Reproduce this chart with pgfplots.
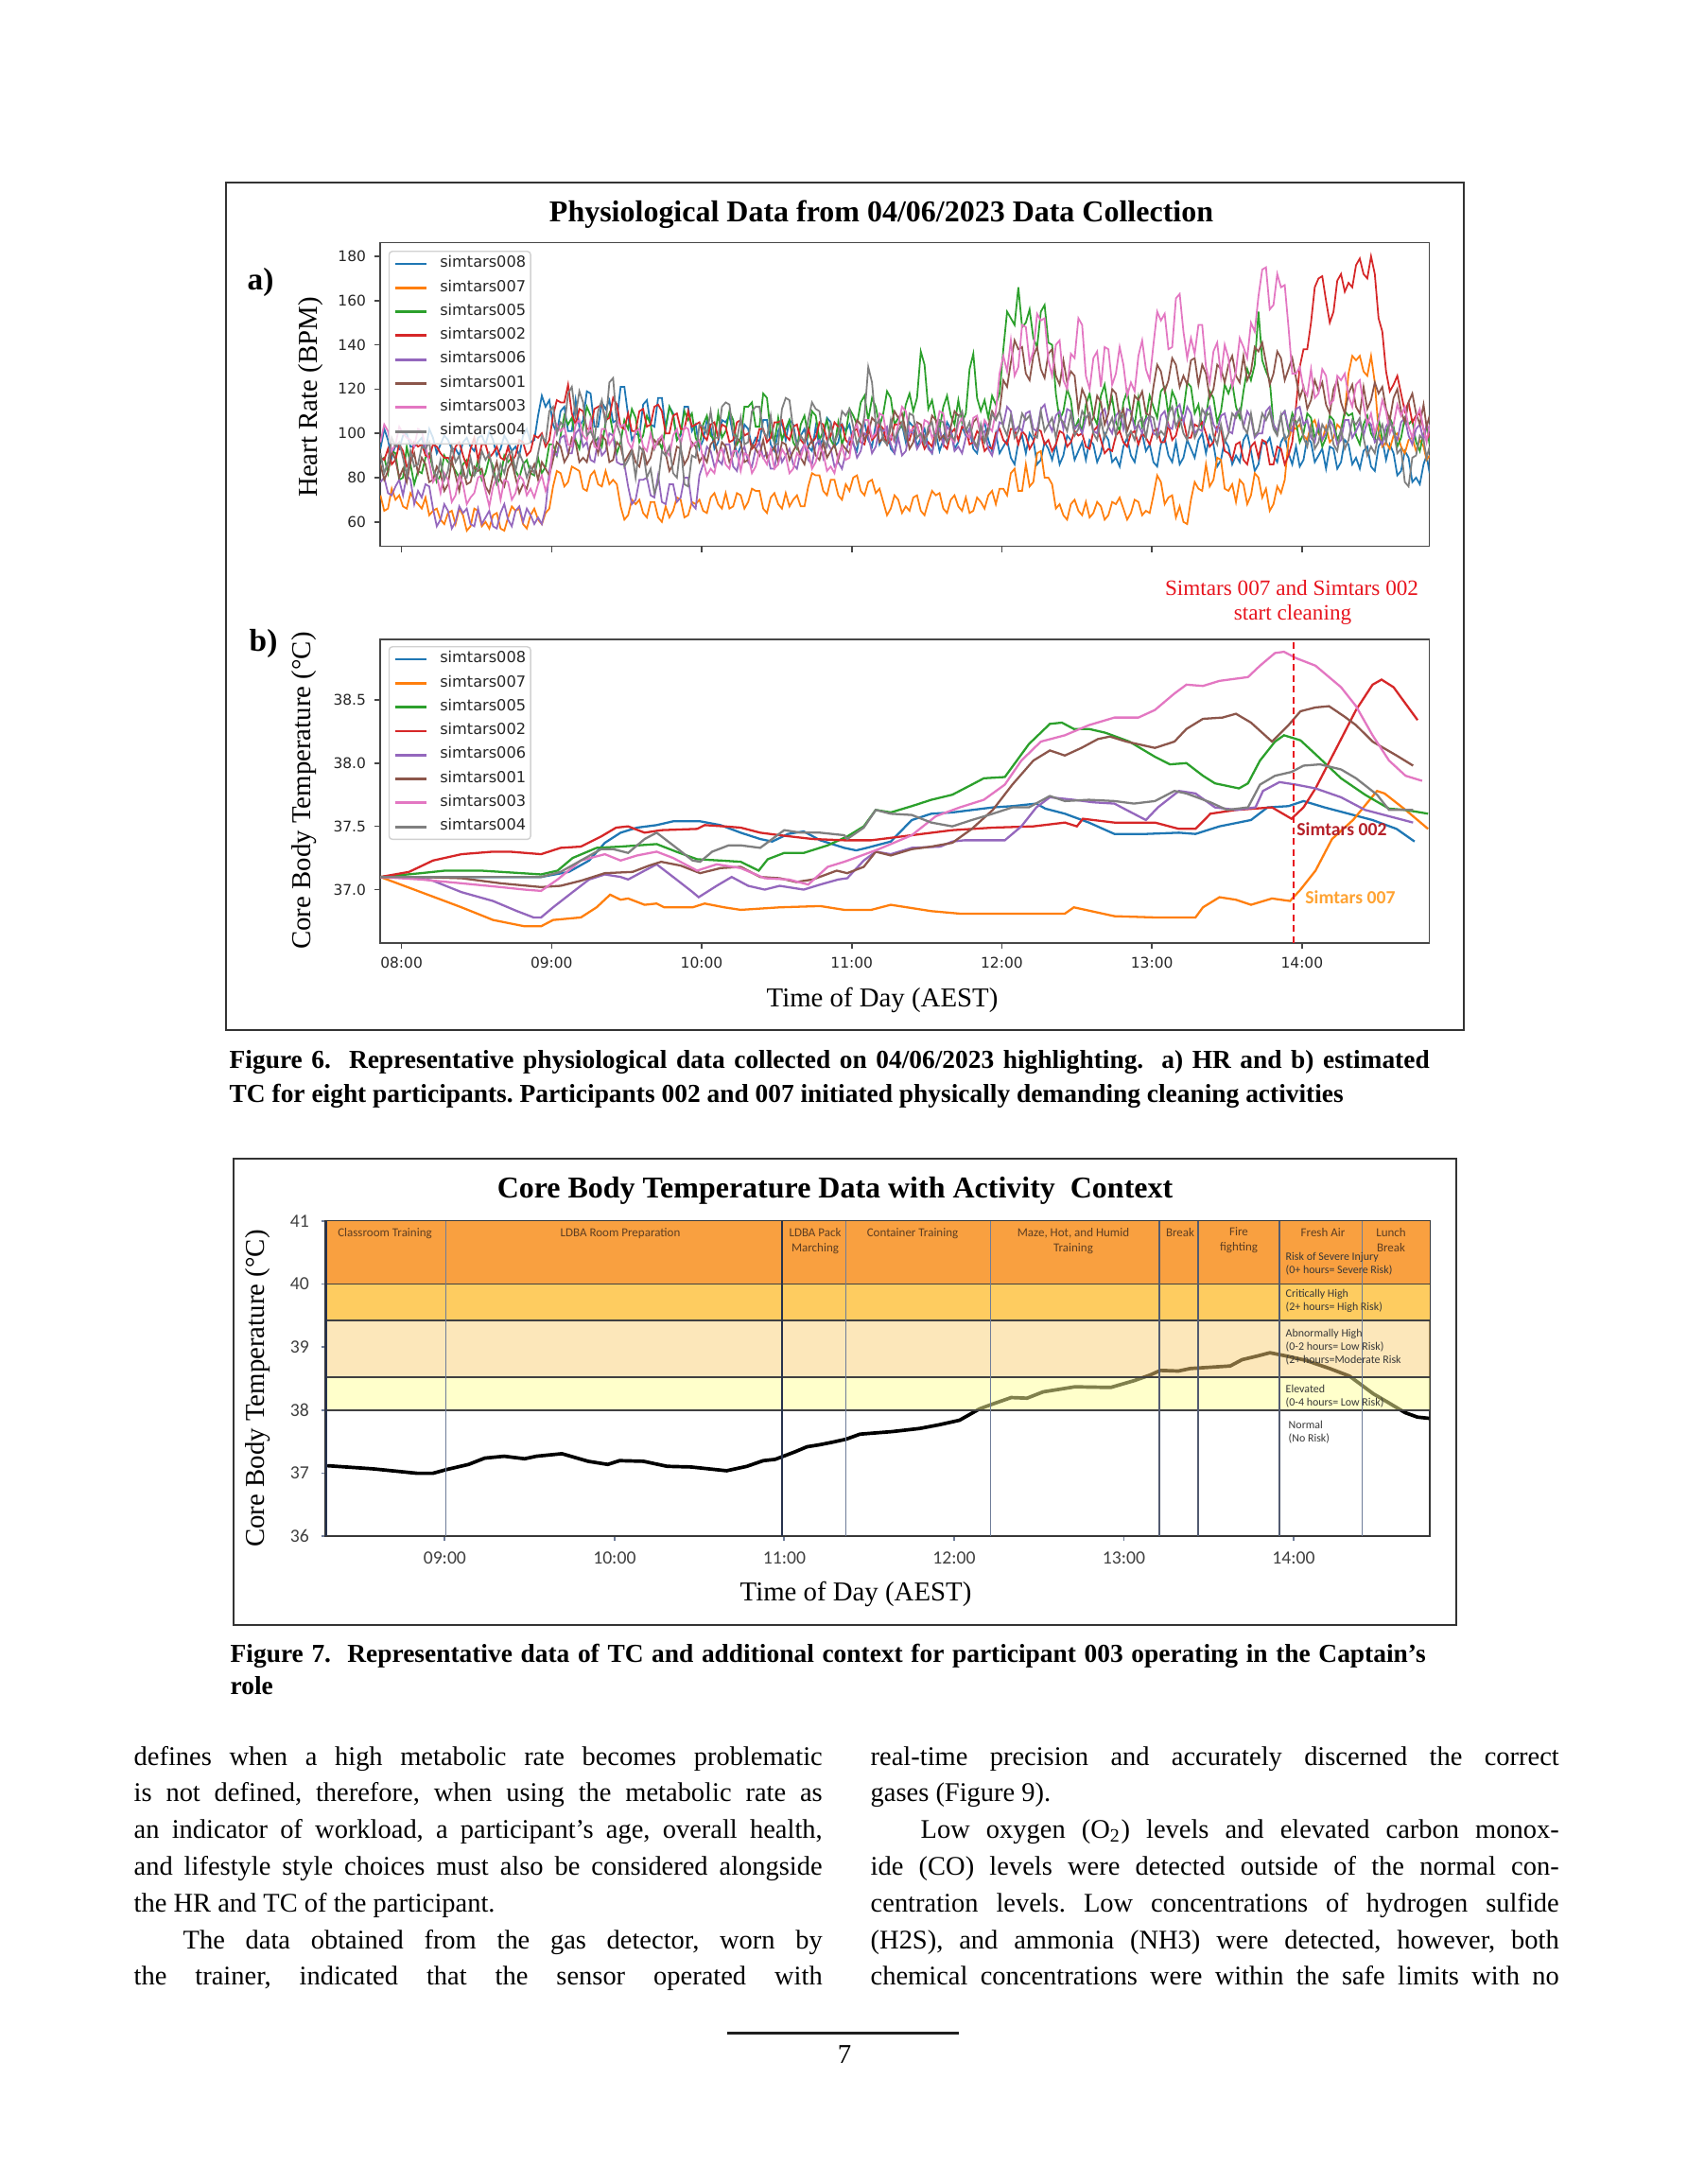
\documentclass[border=0pt]{standalone}
\usepackage{fontspec}
\setmainfont{Liberation Serif}
\newfontfamily\dejavu{DejaVu Sans}
\newfontfamily\carlito{Carlito}
\usepackage{pgfplots}
\usepackage{pgfplotstable}
\pgfplotsset{compat=1.18}
\frenchspacing

% matplotlib tab10
\definecolor{c0}{HTML}{1F77B4}
\definecolor{c1}{HTML}{FF7F0E}
\definecolor{c2}{HTML}{2CA02C}
\definecolor{c3}{HTML}{D62728}
\definecolor{c4}{HTML}{9467BD}
\definecolor{c5}{HTML}{8C564B}
\definecolor{c6}{HTML}{E377C2}
\definecolor{c7}{HTML}{7F7F7F}
% risk bands (C and D are drawn half transparent over the curve)
\definecolor{bandA}{HTML}{F9A040}
\definecolor{bandB}{HTML}{FECC60}
\definecolor{bandC}{HTML}{FBD177}
\definecolor{bandD}{HTML}{FFFF99}
\definecolor{slate}{HTML}{6F7D99}
\definecolor{navy}{HTML}{27324D}
\definecolor{actbrown}{HTML}{5E3E22}
\definecolor{annred}{HTML}{E8141E}
\definecolor{lab002}{HTML}{B5222A}
\definecolor{lab007}{HTML}{FFA333}

% heart rate, eight participants (BPM)
\pgfplotstableread{
t s008 s007 s005 s002 s006 s001 s003 s004
7.86 93 72 88 89 78 86 96 91
7.885 102 65 89 88 80 79 104 82
7.91 97 66 82 93 73 83 101 87
7.935 89 75 92 86 72 92 92 98
7.96 95 70 91 88 76 88 95 94
7.985 93 72 79 95 79 80 103 96
8.01 99 67 80 92 72 84 100 89
8.035 100 66 94 85 81 78 98 81
8.06 94 73 86 87 79 87 97 92
8.085 94 70 77 96 68 91 94 85
8.11 96 68 83 94 74 82 102 86
8.135 98 66 82 95 71 89 101 94
8.16 92 71 89 90 77 86 94 93
8.185 102 63 91 89 76 78 87 96
8.21 98 65 84 95 66 79 78 84
8.235 91 66 78 94 58 85 81 80
8.26 95 61 81 91 61 82 73 88
8.285 99 59 90 89 68 74 82 79
8.31 97 64 87 89 65 77 79 83
8.335 93 65 86 87 57 88 69 94
8.36 93 59 83 94 60 81 72 87
8.385 90 66 80 96 67 74 81 90
8.41 96 63 86 90 64 84 77 81
8.435 98 56 88 85 66 77 68 80
8.46 94 58 81 93 59 78 71 89
8.485 92 66 81 98 58 85 73 81
8.51 98 65 88 88 66 83 80 84
8.535 99 58 79 95 59 84 81 92
8.56 95 60 82 95 62 76 74 88
8.585 101 57 89 89 65 73 67 91
8.61 97 63 85 91 58 81 76 82
8.635 90 64 77 94 57 87 80 78
8.66 93 57 80 89 64 79 70 86
8.685 99 56 90 88 68 76 79 82
8.71 96 62 87 94 61 84 78 90
8.735 92 67 89 87 58 87 70 92
8.76 94 65 83 90 65 80 73 83
8.785 90 66 80 97 67 73 81 91
8.81 99 59 86 96 60 77 79 87
8.835 102 57 88 90 66 75 72 80
8.86 96 63 82 92 63 82 75 85
8.885 97 66 81 99 59 86 71 82
8.91 108 61 89 98 62 79 77 91
8.935 117 59 82 100 59 87 81 99
8.96 112 64 85 94 66 84 74 96
8.985 115 66 95 97 83 81 79 110
9.01 104 76 95 108 92 88 96 112
9.035 100 83 90 115 90 96 104 100
9.06 110 82 99 114 98 94 101 105
9.085 112 76 108 114 99 87 103 103
9.11 101 78 104 122 91 90 95 118
9.135 101 85 107 109 91 98 94 121
9.16 115 84 97 104 100 96 104 108
9.185 103 83 93 111 102 87 106 119
9.21 106 75 103 110 94 89 99 114
9.235 119 74 112 102 96 87 97 99
9.26 118 81 108 102 88 95 106 101
9.285 103 83 96 111 87 98 94 97
9.31 103 77 98 112 97 91 93 110
9.335 114 76 94 113 90 99 102 115
9.36 111 83 105 106 92 97 102 104
9.385 115 77 109 107 100 87 95 123
9.41 105 79 100 116 99 88 98 125
9.435 106 77 91 113 87 96 106 104
9.46 121 67 96 103 86 94 103 99
9.485 121 61 106 102 86 87 104 85
9.51 108 63 102 109 76 90 96 88
9.535 97 70 111 101 68 93 93 92
9.56 100 68 107 101 70 87 101 80
9.585 99 70 96 110 79 85 102 94
9.61 113 64 99 111 79 93 94 92
9.635 115 62 108 103 80 86 92 80
9.66 104 69 104 104 72 89 100 84
9.685 103 69 93 112 71 97 93 73
9.71 116 62 97 113 81 95 97 78
9.735 116 60 93 110 69 98 99 92
9.76 102 67 103 100 68 91 92 90
9.785 112 62 112 100 77 83 90 94
9.81 109 65 108 108 77 86 99 82
9.835 97 71 97 109 69 94 102 80
9.86 99 70 100 102 71 93 95 95
9.885 112 62 110 102 80 86 103 77
9.91 112 63 106 110 80 89 102 76
9.935 101 69 109 103 68 96 94 90
9.96 104 68 98 104 66 94 96 89
9.985 93 70 94 105 81 87 97 104
10.01 97 65 104 99 86 90 88 103
10.035 106 64 108 97 94 87 81 100
10.06 103 71 99 104 92 95 84 110
10.085 93 73 97 105 85 97 82 98
10.11 96 68 109 98 88 89 91 98
10.135 106 66 98 104 86 96 93 112
10.16 105 73 101 103 95 94 86 114
10.185 108 66 110 96 95 87 84 113
10.21 99 67 106 97 85 90 92 100
10.235 90 73 95 105 83 98 92 97
10.26 94 72 98 106 91 96 83 107
10.285 104 66 112 99 94 87 91 95
10.31 102 69 112 100 87 88 90 96
10.335 94 75 114 93 85 95 82 110
10.36 98 74 103 95 93 93 85 112
10.385 96 74 103 102 96 90 92 112
10.41 106 66 118 102 89 97 89 101
10.435 106 64 116 96 91 89 86 98
10.46 95 71 100 98 84 91 93 108
10.485 92 73 96 105 84 94 84 95
10.51 101 68 107 105 94 87 86 95
10.535 105 66 97 106 87 96 93 111
10.56 97 73 102 99 90 95 90 116
10.585 106 67 106 97 93 88 82 115
10.61 104 70 96 103 86 92 84 102
10.635 95 72 93 104 84 95 91 94
10.66 99 67 104 97 92 89 89 99
10.685 102 67 108 95 95 86 95 96
10.71 94 76 99 102 88 94 92 106
10.735 92 82 110 96 86 97 84 114
10.76 103 81 108 98 95 90 87 111
10.785 94 81 97 105 97 88 94 110
10.81 98 74 101 104 89 96 91 97
10.835 107 72 106 97 96 89 83 94
10.86 105 79 97 99 93 92 85 104
10.885 94 79 94 105 85 95 82 96
10.91 96 72 105 103 87 88 90 100
10.935 104 70 95 104 84 95 94 110
10.96 101 77 100 97 91 93 88 108
10.985 104 74 111 95 98 91 89 111
11.01 95 80 108 101 96 99 101 103
11.035 92 81 104 102 89 106 104 95
11.06 102 74 114 96 92 104 97 99
11.085 105 72 117 95 100 97 106 108
11.11 97 78 106 103 99 100 106 130
11.135 94 79 116 97 91 107 98 123
11.16 104 73 112 99 94 105 100 104
11.185 95 75 103 104 102 96 109 106
11.21 99 69 109 102 101 98 108 97
11.235 102 63 119 95 103 95 98 95
11.26 93 66 116 97 95 103 99 106
11.285 91 72 104 104 91 110 96 97
11.31 101 70 107 104 98 107 104 101
11.335 104 64 103 105 90 109 112 105
11.36 96 67 113 99 92 101 110 98
11.385 105 65 118 97 101 93 101 109
11.41 103 71 110 103 100 96 102 108
11.435 94 72 116 104 93 105 104 98
11.46 98 65 137 98 96 104 97 100
11.485 102 63 131 93 99 97 106 95
11.51 94 69 111 96 93 100 105 103
11.535 91 74 115 94 91 108 98 105
11.56 100 72 106 101 99 106 101 96
11.585 92 73 102 102 102 97 110 106
11.61 97 66 112 95 95 99 109 105
11.635 105 64 117 93 103 96 98 96
11.66 102 70 108 100 101 103 98 99
11.685 93 72 104 102 92 110 96 97
11.71 96 67 115 97 94 108 104 107
11.735 103 65 105 103 91 109 107 110
11.76 99 71 109 102 98 101 100 101
11.785 102 64 129 95 102 98 98 105
11.81 93 65 136 96 96 105 107 97
11.835 91 71 116 101 93 107 108 94
11.86 101 69 110 99 100 99 99 104
11.885 105 66 115 92 101 96 106 96
11.91 97 72 107 94 93 103 103 100
11.935 92 74 117 93 90 110 101 109
11.96 100 68 113 100 97 107 110 106
11.985 91 75 118 102 105 110 127 110
12.01 94 75 138 97 104 124 135 103
12.035 97 72 155 95 112 121 128 99
12.06 89 82 152 102 110 132 142 108
12.085 86 84 149 102 101 142 126 98
12.11 96 74 166 95 103 138 130 101
12.135 99 74 148 101 101 139 149 109
12.16 91 86 150 99 109 127 148 106
12.185 100 76 156 93 110 124 132 108
12.21 97 78 143 96 102 135 137 99
12.235 86 91 139 102 101 139 154 98
12.26 88 92 155 101 111 129 151 110
12.285 96 80 158 95 113 125 152 101
12.31 93 80 141 97 105 136 133 104
12.335 88 77 140 92 101 138 126 107
12.36 95 66 118 95 108 126 140 98
12.385 86 68 106 101 110 122 142 107
12.41 90 63 110 100 102 133 124 105
12.435 99 61 120 94 111 123 120 101
12.46 97 68 115 96 110 128 136 109
12.485 88 70 102 101 102 126 134 99
12.51 92 65 106 99 104 110 152 102
12.535 96 63 101 100 100 120 149 110
12.56 88 69 113 94 107 116 126 107
12.585 97 62 118 93 109 104 120 109
12.61 95 64 108 101 101 107 134 100
12.635 87 69 104 103 100 117 137 97
12.66 91 67 117 97 109 114 121 106
12.685 100 61 122 91 111 104 139 98
12.71 97 63 111 93 103 109 138 103
12.735 87 69 116 92 100 120 122 107
12.76 89 68 105 99 108 118 127 99
12.785 85 71 101 101 110 107 139 109
12.81 94 66 114 96 102 111 131 108
12.835 98 61 119 94 111 101 117 98
12.86 90 64 109 100 110 106 123 101
12.885 87 70 104 101 102 117 119 97
12.91 96 69 116 95 104 115 135 105
12.935 100 63 103 100 100 119 142 107
12.96 92 65 107 98 106 109 129 98
12.985 95 64 117 95 108 108 124 108
13.01 87 72 112 101 100 121 140 107
13.035 85 81 107 102 99 131 155 98
13.06 95 78 119 96 108 128 151 101
13.085 98 68 121 96 110 119 154 99
13.11 90 71 108 104 103 124 138 109
13.135 87 72 119 97 102 134 139 112
13.16 96 62 115 99 111 131 161 103
13.185 86 67 104 106 113 121 163 107
13.21 89 60 110 106 105 126 146 100
13.235 97 59 123 98 112 122 134 97
13.26 93 70 121 98 109 133 143 106
13.285 89 78 109 104 100 134 136 98
13.31 97 75 113 103 102 122 149 102
13.335 100 74 102 105 101 131 149 111
13.36 91 86 107 100 110 127 130 108
13.385 99 76 119 94 112 116 123 109
13.41 95 79 116 96 104 120 137 99
13.435 85 89 105 103 101 131 141 95
13.46 88 88 110 102 108 129 126 104
13.485 97 75 122 92 109 123 140 96
13.51 94 74 118 91 101 131 134 100
13.535 86 77 123 88 100 135 121 109
13.56 90 69 112 95 109 126 128 107
13.585 87 79 107 96 111 123 143 111
13.61 97 77 119 88 103 135 139 103
13.635 100 68 129 86 110 124 134 100
13.66 92 72 124 94 107 128 150 109
13.685 83 82 131 96 98 139 146 99
13.71 86 80 155 89 100 137 162 101
13.735 96 71 133 97 100 141 174 109
13.76 95 75 128 96 110 132 175 106
13.785 98 65 124 86 112 122 156 110
13.81 90 68 104 86 104 127 158 102
13.835 87 76 100 94 101 137 172 99
13.86 96 73 108 93 108 134 166 108
13.885 99 79 110 86 110 124 167 97
13.91 91 97 101 90 102 129 148 99
13.935 86 103 109 96 101 134 127 107
13.96 94 102 105 112 111 125 127 104
13.985 85 104 96 130 112 116 130 107
14.01 88 99 100 138 104 121 120 98
14.035 98 97 109 138 106 111 117 94
14.06 96 104 107 150 98 115 129 103
14.085 87 106 98 166 96 124 116 93
14.11 90 100 102 170 105 119 118 96
14.135 93 97 94 171 97 123 129 104
14.16 84 103 98 160 100 113 126 101
14.185 94 96 108 150 106 109 113 104
14.21 93 98 106 155 103 120 115 95
14.235 84 104 97 169 95 124 126 92
14.26 87 102 101 172 97 114 124 102
14.285 97 109 110 164 106 109 127 93
14.31 95 127 108 168 106 118 117 97
14.335 86 135 109 166 98 122 112 106
14.36 89 133 99 176 101 112 122 104
14.385 84 135 95 179 105 109 124 107
14.41 92 128 104 172 99 121 113 98
14.435 94 126 108 170 106 111 104 90
14.46 85 135 100 180 104 115 109 94
14.485 83 123 97 172 96 123 100 91
14.51 94 101 107 152 98 118 106 100
14.535 97 94 97 146 95 121 115 104
14.56 88 96 99 128 103 111 110 96
14.585 95 93 107 119 106 106 100 105
14.61 91 99 103 122 100 116 104 102
14.635 81 100 94 126 97 120 113 91
14.66 83 94 98 118 105 110 108 93
14.685 92 91 107 110 107 105 112 78
14.71 89 97 104 114 99 114 103 76
14.735 78 98 106 105 95 118 98 89
14.76 80 92 96 108 102 109 107 90
14.785 77 97 92 109 104 104 111 99
14.81 86 94 100 102 97 113 102 97
14.83 90 88 103 97 104 103 96 89
14.85 82 90 95 100 101 108 104 94
}\hrdata

\pgfplotsset{
  mpl/.style={
    scale only axis, width=110.94mm, height=32.1mm,
    xmin=7.859, xmax=14.849, xtick={8,9,...,14},
    axis line style={draw=black!72, line width=0.45pt},
    tick align=outside, xtick pos=left, ytick pos=left,
    major tick length=0.6mm, tick style={draw=black!72, line width=0.45pt},
    tick label style={font=\dejavu\fontsize{4.4}{5}\selectfont, text=black!85},
    yticklabel style={inner sep=0pt, xshift=-0.85mm},
    xticklabel style={inner sep=0pt, yshift=-0.85mm},
    /pgf/number format/assume math mode=true,
    legend cell align=left,
    legend style={anchor=north west, draw=black!18, rounded corners=0.35mm,
      fill=white, fill opacity=0.8, text opacity=1, draw opacity=1,
      font=\dejavu\fontsize{4.6}{5}\selectfont, text=black!85,
      inner xsep=0.5mm, inner ysep=0.6mm, row sep=1.08mm,
      nodes={inner sep=0pt, text height=1.1mm, text depth=0.35mm},
      /tikz/every odd column/.append style={column sep=1.3mm}},
    legend image code/.code={\draw[##1, line width=0.8pt] (0mm,0mm) -- (3.3mm,0mm);},
  },
  hr/.style={line width=0.5pt},
  tc/.style={line width=0.65pt},
}

\begin{document}
\begin{tikzpicture}
\fill[white] (0,0) rectangle (178.4mm,-230.9mm);
\path[use as bounding box] (0,0) rectangle (178.4mm,-230.9mm);

% ---------- Figure 6 a) heart rate
\begin{axis}[mpl, at={(40.22mm,-57.77mm)}, anchor=south west,
  ymin=48.9, ymax=186.1, ytick={60,80,...,180}, xticklabels={},
  legend style={at={(0.0077,0.974)}}]
\addplot[c0, hr] table[x=t, y=s008] {\hrdata}; \addlegendentry{simtars008}
\addplot[c1, hr] table[x=t, y=s007] {\hrdata}; \addlegendentry{simtars007}
\addplot[c2, hr] table[x=t, y=s005] {\hrdata}; \addlegendentry{simtars005}
\addplot[c3, hr] table[x=t, y=s002] {\hrdata}; \addlegendentry{simtars002}
\addplot[c4, hr] table[x=t, y=s006] {\hrdata}; \addlegendentry{simtars006}
\addplot[c5, hr] table[x=t, y=s001] {\hrdata}; \addlegendentry{simtars001}
\addplot[c6, hr] table[x=t, y=s003] {\hrdata}; \addlegendentry{simtars003}
\addplot[c7, hr] table[x=t, y=s004] {\hrdata}; \addlegendentry{simtars004}
\end{axis}

% ---------- Figure 6 b) core body temperature
\begin{axis}[mpl, at={(40.22mm,-99.67mm)}, anchor=south west,
  ymin=36.58, ymax=38.98, ytick={37,37.5,38,38.5},
  yticklabels={37.0,37.5,38.0,38.5},
  xticklabels={08:00,09:00,10:00,11:00,12:00,13:00,14:00},
  legend style={at={(0.0077,0.977)}}]
\addplot[c0, tc] coordinates {(7.859,37.10) (8.93,37.10) (9.115,37.14) (9.25,37.23) (9.355,37.37) (9.46,37.45) (9.57,37.49) (9.70,37.51) (9.81,37.54) (9.99,37.54) (10.125,37.51) (10.26,37.45) (10.39,37.40) (10.47,37.38) (10.576,37.44) (10.68,37.46) (10.79,37.39) (10.87,37.36) (10.95,37.33) (11.03,37.31) (11.10,37.33) (11.26,37.38) (11.40,37.55) (11.53,37.60) (11.67,37.61) (11.94,37.65) (12.07,37.66) (12.23,37.68) (12.29,37.64) (12.42,37.60) (12.58,37.53) (12.75,37.44) (12.96,37.44) (13.18,37.45) (13.29,37.44) (13.45,37.50) (13.66,37.55) (13.77,37.65) (13.91,37.66) (14.01,37.70) (14.15,37.65) (14.31,37.60) (14.47,37.55) (14.63,37.48) (14.75,37.38)};
\addlegendentry{simtars008}
\addplot[c1, tc] coordinates {(7.859,37.10) (8.13,36.98) (8.40,36.86) (8.61,36.76) (8.82,36.71) (8.93,36.71) (9.01,36.76) (9.195,36.78) (9.30,36.86) (9.39,36.96) (9.46,36.92) (9.51,36.93) (9.62,36.88) (9.70,36.89) (9.75,36.86) (9.94,36.86) (10.02,36.89) (10.15,36.86) (10.26,36.84) (10.52,36.86) (10.79,36.87) (10.95,36.84) (11.13,36.84) (11.26,36.88) (11.53,36.83) (11.72,36.81) (12.21,36.81) (12.42,36.81) (12.48,36.86) (12.75,36.79) (13.02,36.78) (13.29,36.78) (13.34,36.86) (13.45,36.94) (13.56,36.92) (13.66,36.88) (13.80,36.93) (13.92,36.91) (13.99,37.00) (14.09,37.15) (14.20,37.40) (14.34,37.55) (14.50,37.78) (14.55,37.76) (14.69,37.63) (14.84,37.48)};
\addlegendentry{simtars007}
\addplot[c2, tc] coordinates {(7.859,37.10) (8.13,37.13) (8.29,37.15) (8.53,37.15) (8.80,37.13) (8.93,37.12) (9.04,37.15) (9.14,37.25) (9.30,37.33) (9.46,37.34) (9.70,37.36) (9.83,37.30) (9.97,37.24) (10.125,37.23) (10.26,37.22) (10.38,37.15) (10.44,37.24) (10.55,37.29) (10.68,37.29) (10.84,37.35) (10.97,37.42) (11.08,37.50) (11.16,37.63) (11.26,37.61) (11.40,37.66) (11.53,37.71) (11.67,37.75) (11.80,37.83) (11.88,37.88) (12.02,37.89) (12.10,38.02) (12.18,38.15) (12.32,38.31) (12.40,38.32) (12.48,38.27) (12.58,38.27) (12.69,38.24) (12.85,38.17) (13.02,38.05) (13.12,37.99) (13.23,38.00) (13.34,37.90) (13.42,37.84) (13.58,37.80) (13.64,37.84) (13.72,38.02) (13.82,38.17) (13.88,38.22) (13.99,38.18) (14.09,38.07) (14.26,37.88) (14.42,37.75) (14.58,37.64) (14.69,37.63) (14.84,37.60)};
\addlegendentry{simtars005}
\addplot[c3, tc] coordinates {(7.859,37.10) (8.05,37.14) (8.21,37.23) (8.40,37.28) (8.61,37.30) (8.72,37.30) (8.93,37.28) (9.06,37.33) (9.195,37.34) (9.33,37.42) (9.43,37.49) (9.51,37.50) (9.62,37.45) (9.73,37.47) (9.97,37.48) (10.02,37.51) (10.15,37.50) (10.26,37.49) (10.39,37.45) (10.52,37.43) (10.74,37.40) (10.95,37.39) (11.13,37.39) (11.40,37.43) (11.67,37.47) (11.94,37.49) (12.21,37.50) (12.42,37.53) (12.50,37.50) (12.54,37.56) (12.75,37.53) (13.02,37.53) (13.18,37.48) (13.29,37.48) (13.39,37.60) (13.56,37.63) (13.80,37.65) (13.93,37.56) (14.01,37.65) (14.09,37.80) (14.23,38.12) (14.36,38.42) (14.47,38.62) (14.53,38.66) (14.61,38.60) (14.69,38.47) (14.77,38.34)};
\addlegendentry{simtars002}
\addplot[c4, tc] coordinates {(7.859,37.10) (8.08,37.10) (8.21,37.07) (8.40,36.98) (8.61,36.91) (8.77,36.83) (8.88,36.78) (8.93,36.78) (9.01,36.86) (9.14,36.98) (9.25,37.08) (9.355,37.12) (9.46,37.10) (9.51,37.08) (9.62,37.15) (9.70,37.20) (9.81,37.10) (9.94,36.98) (9.98,36.94) (10.10,37.03) (10.20,37.10) (10.31,37.03) (10.42,37.00) (10.52,37.03) (10.68,37.00) (10.79,37.04) (10.91,37.08) (10.97,37.09) (11.08,37.23) (11.16,37.30) (11.26,37.28) (11.40,37.33) (11.59,37.34) (11.67,37.38) (11.75,37.39) (12.02,37.39) (12.13,37.50) (12.23,37.65) (12.32,37.73) (12.48,37.71) (12.61,37.69) (12.75,37.68) (12.83,37.63) (12.96,37.55) (13.04,37.65) (13.18,37.78) (13.29,37.76) (13.42,37.65) (13.56,37.63) (13.69,37.65) (13.74,37.78) (13.85,37.85) (13.96,37.83) (14.09,37.80) (14.26,37.73) (14.42,37.63) (14.58,37.58) (14.74,37.53)};
\addlegendentry{simtars006}
\addplot[c5, tc] coordinates {(7.859,37.10) (8.13,37.10) (8.40,37.09) (8.66,37.05) (8.93,37.02) (9.06,37.03) (9.195,37.07) (9.355,37.13) (9.54,37.14) (9.65,37.19) (9.73,37.22) (9.86,37.19) (9.99,37.13) (10.125,37.17) (10.26,37.18) (10.39,37.10) (10.52,37.09) (10.63,37.06) (10.74,37.08) (10.90,37.15) (10.97,37.13) (11.08,37.18) (11.16,37.30) (11.26,37.27) (11.40,37.32) (11.53,37.34) (11.67,37.37) (11.80,37.48) (11.94,37.63) (12.07,37.83) (12.21,38.02) (12.32,38.10) (12.42,38.06) (12.53,38.12) (12.64,38.19) (12.72,38.21) (12.83,38.17) (13.02,38.12) (13.15,38.17) (13.23,38.27) (13.34,38.35) (13.47,38.36) (13.56,38.39) (13.66,38.32) (13.80,38.17) (13.91,38.30) (13.99,38.41) (14.09,38.44) (14.18,38.45) (14.28,38.37) (14.36,38.30) (14.47,38.17) (14.63,38.06) (14.74,37.98)};
\addlegendentry{simtars001}
\addplot[c6, tc] coordinates {(7.859,37.10) (8.13,37.08) (8.40,37.05) (8.66,37.02) (8.82,37.00) (8.93,36.99) (9.04,37.08) (9.195,37.23) (9.355,37.28) (9.46,37.23) (9.57,37.27) (9.70,37.30) (9.81,37.25) (9.97,37.15) (10.10,37.20) (10.26,37.17) (10.42,37.09) (10.58,37.08) (10.71,37.04) (10.84,37.18) (10.95,37.22) (11.02,37.25) (11.18,37.32) (11.40,37.43) (11.56,37.58) (11.72,37.65) (11.88,37.71) (12.02,37.83) (12.13,38.02) (12.26,38.17) (12.42,38.22) (12.58,38.30) (12.75,38.36) (12.91,38.36) (13.02,38.42) (13.15,38.55) (13.23,38.62) (13.34,38.61) (13.45,38.65) (13.64,38.68) (13.72,38.77) (13.82,38.87) (13.88,38.88) (13.96,38.83) (14.09,38.77) (14.26,38.60) (14.36,38.45) (14.47,38.22) (14.58,38.02) (14.69,37.90) (14.80,37.86)};
\addlegendentry{simtars003}
\addplot[c7, tc] coordinates {(7.859,37.10) (8.93,37.10) (9.06,37.14) (9.195,37.23) (9.33,37.32) (9.41,37.32) (9.51,37.29) (9.62,37.40) (9.70,37.45) (9.81,37.35) (9.94,37.23) (9.99,37.22) (10.07,37.30) (10.18,37.35) (10.26,37.35) (10.39,37.33) (10.55,37.47) (10.66,37.45) (10.79,37.45) (10.95,37.43) (10.97,37.40) (11.08,37.49) (11.16,37.63) (11.26,37.60) (11.40,37.59) (11.53,37.53) (11.67,37.50) (11.80,37.55) (11.94,37.60) (12.07,37.65) (12.18,37.65) (12.32,37.74) (12.42,37.70) (12.58,37.71) (12.75,37.70) (12.88,37.68) (13.02,37.70) (13.15,37.78) (13.23,37.76) (13.39,37.69) (13.50,37.63) (13.64,37.65) (13.72,37.83) (13.82,37.90) (13.93,37.93) (14.01,37.98) (14.12,37.99) (14.26,37.95) (14.36,37.88) (14.50,37.75) (14.58,37.63) (14.74,37.63)};
\addlegendentry{simtars004}
\draw[annred, line width=0.6pt, dash pattern=on 0.7mm off 0.45mm] (axis cs:13.945,36.58) -- (axis cs:13.945,38.98);
\end{axis}

% ---------- Figure 7 core body temperature with activity context
\begin{axis}[scale only axis, width=116.8mm, height=33.36mm,
  at={(34.4mm,-162.43mm)}, anchor=south west,
  xmin=8.296, xmax=14.803, ymin=36, ymax=41,
  xtick={9,...,14}, xticklabels={09:00,10:00,11:00,12:00,13:00,14:00},
  ytick={36,...,41},
  tick align=outside, xtick pos=left, ytick pos=left, major tick length=0.45mm,
  axis line style={draw=black!78, line width=0.6pt},
  tick style={draw=slate, line width=0.5pt},
  tick label style={font=\carlito\fontsize{5.6}{6}\selectfont, text=black!75},
  yticklabel style={inner sep=0pt, xshift=-1.2mm},
  xticklabel style={inner sep=0pt, yshift=-1.1mm},
  /pgf/number format/assume math mode=true]
\addplot[black, line width=1.05pt] coordinates {(8.308,37.12) (8.578,37.07) (8.836,37.00) (8.93,37.00) (9.012,37.06) (9.14,37.14) (9.235,37.24) (9.35,37.27) (9.47,37.23) (9.54,37.27) (9.69,37.31) (9.844,37.19) (9.96,37.14) (10.03,37.20) (10.17,37.19) (10.31,37.11) (10.45,37.10) (10.66,37.04) (10.78,37.11) (10.876,37.20) (10.946,37.22) (11.063,37.34) (11.134,37.42) (11.204,37.45) (11.28,37.49) (11.364,37.54) (11.446,37.62) (11.634,37.66) (11.798,37.71) (11.915,37.77) (12.032,37.84) (12.15,38.02) (12.22,38.09) (12.337,38.20) (12.43,38.19) (12.525,38.29) (12.712,38.37) (12.923,38.36) (13.064,38.47) (13.158,38.56) (13.216,38.63) (13.322,38.62) (13.392,38.66) (13.51,38.68) (13.627,38.70) (13.697,38.80) (13.79,38.86) (13.861,38.91) (13.955,38.86) (14.072,38.79) (14.213,38.66) (14.33,38.54) (14.47,38.26) (14.565,38.11) (14.658,37.96) (14.73,37.89) (14.80,37.87)};
\fill[bandD, opacity=0.5] (axis cs:8.296,38) rectangle (axis cs:14.803,38.52);
\fill[bandC, opacity=0.5] (axis cs:8.296,38.52) rectangle (axis cs:14.803,39.42);
\fill[bandB] (axis cs:8.296,39.42) rectangle (axis cs:14.803,40);
\fill[bandA] (axis cs:8.296,40) rectangle (axis cs:14.803,41);
\draw[black!75, line width=0.5pt] (axis cs:8.296,38) -- (axis cs:14.803,38);
\draw[black!75, line width=0.5pt] (axis cs:8.296,38.52) -- (axis cs:14.803,38.52);
\draw[black!75, line width=0.5pt] (axis cs:8.296,39.42) -- (axis cs:14.803,39.42);
\draw[black!75, line width=0.5pt] (axis cs:8.296,40) -- (axis cs:14.803,40);
\draw[slate, line width=0.4pt] (axis cs:9.007,36) -- (axis cs:9.007,41);
\draw[navy, line width=0.7pt] (axis cs:10.988,36) -- (axis cs:10.988,41);
\draw[slate, line width=0.4pt] (axis cs:11.363,36) -- (axis cs:11.363,41);
\draw[slate, line width=0.4pt] (axis cs:12.215,36) -- (axis cs:12.215,41);
\draw[navy!80, line width=0.4pt] (axis cs:13.209,36) -- (axis cs:13.209,41);
\draw[navy!80, line width=0.4pt] (axis cs:13.439,36) -- (axis cs:13.439,41);
\draw[navy!80, line width=0.4pt] (axis cs:13.917,36) -- (axis cs:13.917,41);
\draw[slate, line width=0.4pt] (axis cs:14.403,36) -- (axis cs:14.403,41);
\draw[navy, line width=0.9pt] (axis cs:8.296,36) -- (axis cs:8.296,41);
\end{axis}

% ---------- frames, titles, labels and page text (0.1 mm units, y downwards)
\begin{scope}[x=0.1mm, y=-0.1mm]
\draw[black!80, line width=0.6pt] (239,193) rectangle (1548,1089);
\draw[black!80, line width=0.6pt] (247,1225) rectangle (1540,1718);

\node[anchor=base, inner sep=0, font=\bfseries\fontsize{9.1}{11}\selectfont] at (932,234) {Physiological Data from 04/06/2023 Data Collection};
\node[anchor=base west, inner sep=0, font=\bfseries\fontsize{9.5}{11}\selectfont] at (261,306) {a)};
\node[anchor=base west, inner sep=0, font=\bfseries\fontsize{9.5}{11}\selectfont] at (263,688) {b)};
\node[rotate=90, inner sep=0, font=\fontsize{8.2}{10}\selectfont] at (328.6,420) {Heart Rate (BPM)};
\node[rotate=90, inner sep=0, font=\fontsize{8.2}{10}\selectfont] at (322,836) {Core Body Temperature (°C)};
\node[inner sep=0, font=\fontsize{8.2}{10}\selectfont] at (933,1057) {Time of Day (AEST)};
\node[inner sep=0, text=annred, font=\fontsize{6.6}{8}\selectfont] at (1366,622) {Simtars 007 and Simtars 002};
\node[inner sep=0, text=annred, font=\fontsize{6.6}{8}\selectfont] at (1367,650) {start cleaning};
\node[inner sep=0, text=lab002, font=\carlito\bfseries\fontsize{5.6}{7}\selectfont] at (1419,877) {Simtars 002};
\node[inner sep=0, text=lab007, font=\carlito\bfseries\fontsize{5.6}{7}\selectfont] at (1428,949) {Simtars 007};

\node[anchor=base west, inner sep=0, font=\bfseries\fontsize{7.8}{9}\selectfont] at (242,1129) {\makebox[126.9mm][s]{Figure 6.\ \ Representative physiological data collected on 04/06/2023 highlighting.\ \ a) HR and b) estimated}};
\node[anchor=base west, inner sep=0, font=\bfseries\fontsize{7.8}{9}\selectfont] at (242,1165) {TC for eight participants. Participants 002 and 007 initiated physically demanding cleaning activities};

\node[anchor=base, inner sep=0, font=\bfseries\fontsize{9.1}{11}\selectfont] at (883,1266) {Core Body Temperature Data with Activity\ \ Context};
\node[rotate=90, inner sep=0, font=\fontsize{8.2}{10}\selectfont] at (272.5,1468) {Core Body Temperature (°C)};
\node[inner sep=0, font=\fontsize{8.2}{10}\selectfont] at (905,1685) {Time of Day (AEST)};

\begin{scope}[every node/.style={inner sep=0, text=actbrown, align=center, font=\carlito\fontsize{3.7}{4.4}\selectfont, anchor=north}]
\node at (407,1298) {Classroom Training};
\node at (656,1298) {LDBA Room Preparation};
\node at (862,1298) {LDBA Pack\\Marching};
\node at (965,1298) {Container Training};
\node at (1135,1298) {Maze, Hot, and Humid\\Training};
\node at (1248,1298) {Break};
\node at (1310,1297) {Fire\\fighting};
\node at (1399,1298) {Fresh Air};
\node at (1471,1298) {Lunch\\Break};
\end{scope}
\begin{scope}[every node/.style={inner sep=0, text=black!78, align=left, font=\carlito\fontsize{3.4}{4.1}\selectfont, anchor=north west}]
\node at (1359,1323) {Risk of Severe Injury\\(0+ hours= Severe Risk)};
\node at (1359,1362) {Critically High\\(2+ hours= High Risk)};
\node at (1359,1404) {Abnormally High\\(0-2 hours= Low Risk)\\(2+ hours=Moderate Risk};
\node at (1359,1463) {Elevated\\(0-4 hours= Low Risk)};
\node at (1362,1501) {Normal\\(No Risk)};
\end{scope}

\node[anchor=base west, inner sep=0, font=\bfseries\fontsize{7.8}{9}\selectfont] at (243,1757) {\makebox[126.4mm][s]{Figure 7.\ \ Representative data of TC and additional context for participant 003 operating in the Captain’s}};
\node[anchor=base west, inner sep=0, font=\bfseries\fontsize{7.8}{9}\selectfont] at (243,1791) {role};

\begin{scope}[every node/.style={anchor=base west, inner sep=0, font=\fontsize{8.1}{10}\selectfont}]
\node at (141,1866) {\makebox[72.8mm][s]{defines when a high metabolic rate becomes problematic}};
\node at (141,1904.8) {\makebox[72.8mm][s]{is not defined, therefore, when using the metabolic rate as}};
\node at (141,1943.6) {\makebox[72.8mm][s]{an indicator of workload, a participant’s age, overall health,}};
\node at (141,1982.4) {\makebox[72.8mm][s]{and lifestyle style choices must also be considered alongside}};
\node at (141,2021.2) {the HR and TC of the participant.};
\node at (193,2060) {\makebox[67.6mm][s]{The data obtained from the gas detector, worn by}};
\node at (141,2098.8) {\makebox[72.8mm][s]{the trainer, indicated that the sensor operated with}};
\node at (920,1866) {\makebox[72.8mm][s]{real-time precision and accurately discerned the correct}};
\node at (920,1904.8) {gases (Figure 9).};
\node at (973,1943.6) {\makebox[67.5mm][s]{Low oxygen (O\textsubscript{2}) levels and elevated carbon monox-}};
\node at (920,1982.4) {\makebox[72.8mm][s]{ide (CO) levels were detected outside of the normal con-}};
\node at (920,2021.2) {\makebox[72.8mm][s]{centration levels. Low concentrations of hydrogen sulfide}};
\node at (920,2060) {\makebox[72.8mm][s]{(H2S), and ammonia (NH3) were detected, however, both}};
\node at (920,2098.8) {\makebox[72.8mm][s]{chemical concentrations were within the safe limits with no}};
\end{scope}

\draw[black!88, line width=0.75pt] (769,2149.3) -- (1014,2149.3);
\node[anchor=base, inner sep=0, font=\fontsize{8.2}{10}\selectfont] at (893,2181) {7};
\end{scope}
\end{tikzpicture}
\end{document}
